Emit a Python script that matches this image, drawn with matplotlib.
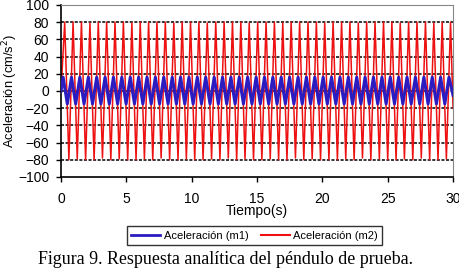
import matplotlib
matplotlib.use("Agg")
import matplotlib.pyplot as plt

# extremes of the red trace (m2): time [s], acceleration [cm/s2]
red_t = [0.00,
         0.28, 0.60, 0.92, 1.24, 1.56, 1.88, 2.21, 2.53, 2.85, 3.17, 3.49, 3.81,
         4.13, 4.45, 4.77, 5.10, 5.42, 5.74, 6.06, 6.38, 6.70, 7.02, 7.34, 7.66,
         7.98, 8.31, 8.63, 8.95, 9.27, 9.59, 9.91, 10.23, 10.55, 10.87, 11.19, 11.52,
         11.84, 12.16, 12.48, 12.80, 13.12, 13.44, 13.76, 14.08, 14.40, 14.73, 15.05, 15.37,
         15.69, 16.01, 16.33, 16.65, 16.97, 17.29, 17.61, 17.94, 18.26, 18.58, 18.90, 19.22,
         19.54, 19.86, 20.18, 20.50, 20.82, 21.15, 21.47, 21.79, 22.11, 22.43, 22.75, 23.07,
         23.39, 23.71, 24.03, 24.36, 24.68, 25.00, 25.32, 25.64, 25.96, 26.28, 26.60, 26.92,
         27.24, 27.57, 27.89, 28.21, 28.53, 28.85, 29.17, 29.49, 29.81, 30.00]
red_v = [0,
         80, -80, 80, -79, 80, -80, 79, -80, 80, -78, 80, -80,
         80, -79, 80, -80, 79, -80, 80, -79, 80, -80, 80, -78,
         80, -80, 79, -80, 80, -79, 80, -80, 80, -80, 79, -79,
         80, -80, 80, -78, 80, -80, 80, -79, 79, -80, 80, -80,
         80, -79, 80, -80, 79, -80, 80, -78, 80, -80, 80, -79,
         80, -80, 79, -80, 80, -80, 80, -79, 80, -80, 79, -78,
         80, -80, 80, -79, 80, -80, 80, -80, 79, -79, 80, -80,
         80, -78, 80, -80, 79, -80, 80, -79, 80, -20]

# extremes of the blue trace (m1)
blue_t = [0.00,
          0.16, 0.48, 0.80, 1.12, 1.44, 1.76, 2.09, 2.41, 2.73, 3.05, 3.37, 3.69,
          4.01, 4.33, 4.65, 4.98, 5.30, 5.62, 5.94, 6.26, 6.58, 6.90, 7.22, 7.54,
          7.86, 8.19, 8.51, 8.83, 9.15, 9.47, 9.79, 10.11, 10.43, 10.75, 11.07, 11.40,
          11.72, 12.04, 12.36, 12.68, 13.00, 13.32, 13.64, 13.96, 14.28, 14.61, 14.93, 15.25,
          15.57, 15.89, 16.21, 16.53, 16.85, 17.17, 17.49, 17.82, 18.14, 18.46, 18.78, 19.10,
          19.42, 19.74, 20.06, 20.38, 20.70, 21.03, 21.35, 21.67, 21.99, 22.31, 22.63, 22.95,
          23.27, 23.59, 23.91, 24.24, 24.56, 24.88, 25.20, 25.52, 25.84, 26.16, 26.48, 26.80,
          27.12, 27.45, 27.77, 28.09, 28.41, 28.73, 29.05, 29.37, 29.69, 30.00]
blue_v = [0,
          16, -15, 16, -15, 16, -15, 16, -15, 16, -15, 16, -15,
          16, -15, 16, -15, 16, -15, 16, -15, 16, -15, 16, -15,
          16, -15, 16, -15, 16, -15, 16, -15, 16, -15, 16, -15,
          16, -15, 16, -15, 16, -15, 16, -15, 16, -15, 16, -15,
          16, -15, 16, -15, 16, -15, 16, -15, 16, -15, 16, -15,
          16, -15, 16, -15, 16, -15, 16, -15, 16, -15, 16, -15,
          16, -15, 16, -15, 16, -15, 16, -15, 16, -15, 16, -15,
          16, -15, 16, -15, 16, -15, 16, -15, 16, -5]

x_ticks = [0, 5, 10, 15, 20, 25, 30]
y_ticks = [-100, -80, -60, -40, -20, 0, 20, 40, 60, 80, 100]

plt.rcParams['font.family'] = ['Liberation Sans', 'DejaVu Sans']

fig = plt.figure(figsize=(4.59, 2.71), dpi=100)
ax = fig.add_axes([0.133, 0.347, 0.854, 0.6347])

for y in y_ticks[1:-1]:
    ax.axhline(y, color="black", linestyle=(0, (2, 1)), linewidth=1.1, zorder=1)

ax.plot(red_t, red_v, color="#ee1111", linewidth=1.1, label="Aceleración (m2)", zorder=2)
ax.plot(blue_t, blue_v, color="#2a1cc0", linewidth=2.2, label="Aceleración (m1)", zorder=3)

ax.set_xlim(0, 30)
ax.set_ylim(-100, 100)
ax.set_xticks(x_ticks)
ax.set_yticks(y_ticks)
ax.tick_params(direction="out", length=3.5, width=1, labelsize=10)
ax.tick_params(axis="x", pad=7)
ax.tick_params(axis="y", pad=5)
ax.spines["left"].set_linewidth(1.2)
ax.spines["bottom"].set_linewidth(1.2)
ax.spines["top"].set_color("#888888")
ax.spines["right"].set_color("#888888")

ax.set_xlabel("Tiempo(s)", fontsize=10, labelpad=-1)
ax.set_ylabel("Aceleración (cm/s$^2$)", fontsize=9.3, va="center")
ax.yaxis.set_label_coords(-0.129, 0.5)

handles, labels = ax.get_legend_handles_labels()
leg = fig.legend(handles[::-1], labels[::-1], loc="center", bbox_to_anchor=(0.5545, 0.1296),
                 ncol=2, fontsize=8, frameon=True, fancybox=False, handlelength=2.6,
                 handletextpad=0.3, columnspacing=1.1, borderpad=0.4)
leg.get_frame().set_edgecolor("black")
leg.get_frame().set_linewidth(1.0)
leg.legend_handles[0].set_linewidth(2.0)
leg.legend_handles[1].set_linewidth(1.5)

fig.text(0.492, 0.044, "Figura 9. Respuesta analítica del péndulo de prueba.",
         family="Liberation Serif", fontsize=12.9, ha="center", va="center")

fig.savefig("out.png", dpi=100)
